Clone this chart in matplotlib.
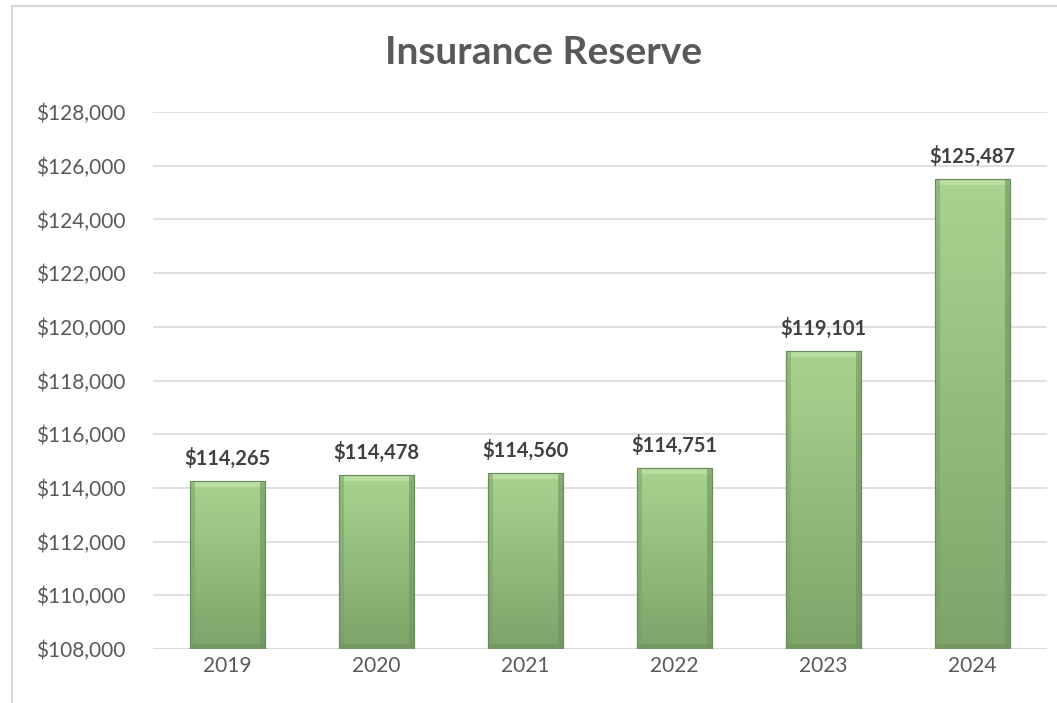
import numpy as np
import matplotlib
matplotlib.use('Agg')
import matplotlib.pyplot as plt
from matplotlib.lines import Line2D
from matplotlib.ticker import FuncFormatter

### Data ###
years = ['2019', '2020', '2021', '2022', '2023', '2024']
reserve = [114265, 114478, 114560, 114751, 119101, 125487]

plt.rcParams['font.family'] = ['Lato', 'DejaVu Sans']

W, H = 1057, 703
fig = plt.figure(figsize=(W / 100, H / 100), dpi=100)
ax = fig.add_axes([153 / W, 1 - 649 / H, (1047 - 153) / W, (649 - 112) / H])

ymin, ymax = 108000, 128000
x = np.arange(len(years))
bars = ax.bar(x, reserve, width=0.5, color='#9cc885',
              edgecolor='#6b8a5a', linewidth=0.8, zorder=2)

# vertical gradient inside each bar (light top -> darker bottom)
grad = np.linspace(0, 1, 256).reshape(-1, 1)
cmap = matplotlib.colors.LinearSegmentedColormap.from_list('g', ['#a8d48f', '#7ea469'])
for b in bars:
    x0, w, h = b.get_x(), b.get_width(), b.get_height()
    im = ax.imshow(grad, cmap=cmap, aspect='auto', extent=[x0, x0 + w, ymin, h],
                   origin='upper', zorder=2.1)
    im.set_clip_path(b)
    # bevel: lighter top strip, darker sides and bottom
    ax.add_patch(plt.Rectangle((x0, h - 220), w, 220, color='#b8dea2', zorder=2.2, lw=0))
    ax.add_patch(plt.Rectangle((x0, ymin), w * 0.06, h - ymin, color='#7a9e67', alpha=0.5, zorder=2.2, lw=0))
    ax.add_patch(plt.Rectangle((x0 + w * 0.94, ymin), w * 0.06, h - ymin, color='#6e9160', alpha=0.6, zorder=2.2, lw=0))
    ax.add_patch(plt.Rectangle((x0, ymin), w, 180, color='#6f935c', alpha=0.6, zorder=2.2, lw=0))
    ax.add_patch(plt.Rectangle((x0, ymin - 500), w, h - ymin + 500, fill=False, ec='#6b8a5a', lw=0.8, zorder=2.3))
    ax.text(x0 + w / 2, h + 600, '${:,.0f}'.format(h), ha='center', va='baseline',
            fontsize=14.5, fontweight='bold', color='#404040', zorder=3)

ax.set_xlim(-0.5, len(years) - 0.5)
ax.set_ylim(ymin, ymax)
ax.set_yticks(np.arange(ymin, ymax + 1, 2000))
ax.yaxis.set_major_formatter(FuncFormatter(lambda v, p: '${:,.0f}'.format(v)))
ax.set_xticks(x)
ax.set_xticklabels(years)
ax.tick_params(axis='both', length=0, labelsize=15, colors='#595959')
ax.tick_params(axis='y', pad=20)
ax.tick_params(axis='x', pad=5)
ax.grid(axis='y', color='#d9d9d9', linewidth=1.2, zorder=0)
ax.set_axisbelow(True)
for s in ax.spines.values():
    s.set_visible(False)
ax.axhline(ymin, color='#d9d9d9', linewidth=1.2, zorder=1)

fig.text(544 / W, 1 - 53 / H, 'Insurance Reserve', ha='center', va='center',
         fontsize=28, fontweight='bold', color='#595959')

# chart frame (cropped at right and bottom)
fig.add_artist(Line2D([12 / W, 12 / W], [0, 1 - 6 / H], color='#d9d9d9', lw=1.5))
fig.add_artist(Line2D([12 / W, 1], [1 - 6 / H, 1 - 6 / H], color='#d9d9d9', lw=1.5))

fig.savefig('out.png', dpi=100)
